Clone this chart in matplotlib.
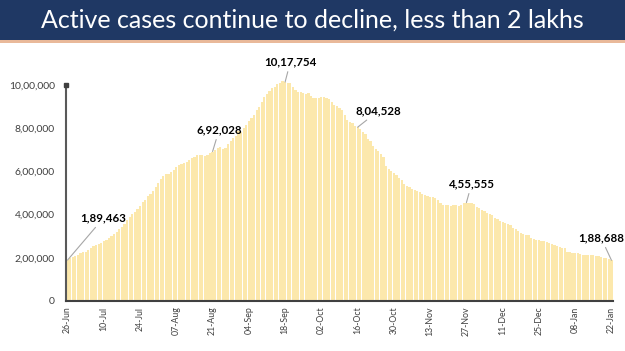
import matplotlib
matplotlib.use("Agg")
import matplotlib.pyplot as plt
from matplotlib.patches import Rectangle
from matplotlib.ticker import FuncFormatter

# daily active cases, 26-Jun-2020 .. 22-Jan-2021
active_cases = [
    189463, 197387, 203051, 210120, 215125,                       # 26-30 Jun
    220114, 226947, 227439, 235433, 244814, 253287, 259557, 264944,
    269789, 276882, 283407, 292258, 301609, 311565, 319840, 331146,
    342473, 358692, 373379, 390459, 402529, 411133, 426167, 440135,
    456071, 467882, 485114, 496988, 509447, 528242, 545318,       # Jul
    565103, 579357, 586244, 586298, 595501, 607384, 619088, 628747,
    634945, 639929, 643948, 653622, 661595, 668220, 676900, 677444,
    676514, 673166, 676900, 686395, 692028, 697330, 707668, 710771,
    704348, 707267, 725991, 742023, 752424, 765302, 785996,       # Aug
    781975, 801282, 815538, 831124, 846395, 862320, 883697, 897394,
    919018, 943480, 958316, 973175, 986598, 990061, 1003299, 1009976,
    1017754, 1013964, 1010824, 1009000, 990061, 975861, 968377, 966382,
    960969, 956402, 962640, 947576, 940441, 940705,               # Sep
    940441, 942217, 944996, 937625, 934427, 919023, 907883, 902425,
    893592, 883185, 861853, 838729, 826876, 826000, 812390, 804528,
    795087, 783311, 772055, 748538, 740090, 715812, 703687, 695509,
    680680, 668154, 625857, 610803, 603687, 594386, 582649,       # Oct
    570458, 561908, 541405, 533787, 527962, 516632, 512665, 509673,
    505265, 494657, 489294, 484547, 480719, 479216, 478124, 465478,
    453401, 444746, 443794, 443303, 440962, 443486, 443794, 438667,
    444746, 452344, 455555, 454940, 453956, 446952,               # Nov
    435603, 428644, 422943, 416082, 409689, 403248, 396729, 383866,
    378909, 372293, 363749, 359819, 356546, 352586, 339820, 332002,
    322366, 313831, 308751, 305344, 303639, 292518, 289240, 283849,
    281919, 278690, 277301, 275000, 268581, 262272, 257656,       # Dec
    254254, 250183, 247220, 243953, 228083, 227546, 224190, 222526,
    220676, 216558, 214000, 214507, 214507, 213027, 211033, 208826,
    208012, 203000, 200528, 197201, 192308, 188688,               # Jan
]

tick_labels = ["26-Jun", "10-Jul", "24-Jul", "07-Aug", "21-Aug", "04-Sep",
               "18-Sep", "02-Oct", "16-Oct", "30-Oct", "13-Nov", "27-Nov",
               "11-Dec", "25-Dec", "08-Jan", "22-Jan"]

# (day index, label, text x in days, text y)
callouts = [
    (0, "1,89,463", 5.0, 384000),
    (56, "6,92,028", 58.5, 792000),
    (84, "10,17,754", 86.0, 1106000),
    (112, "8,04,528", 120.0, 880000),
    (154, "4,55,555", 156.0, 542000),
    (210, "1,88,688", 206.0, 292000),
]

font = "Lato"


def indian_format(v, pos=None):
    v = int(round(v))
    if v == 0:
        return "0"
    s = str(v)
    last3, rest = s[-3:], s[:-3]
    groups = []
    while len(rest) > 2:
        groups.insert(0, rest[-2:])
        rest = rest[:-2]
    if rest:
        groups.insert(0, rest)
    return ",".join(groups + [last3])


fig = plt.figure(figsize=(6.25, 3.51), dpi=100)
fig.patch.set_facecolor("white")

# title banner
fig.patches.append(Rectangle((0, 1 - 40 / 351), 1, 40 / 351, transform=fig.transFigure,
                             facecolor="#1F3864", edgecolor="none", zorder=0))
fig.patches.append(Rectangle((0, 1 - 43 / 351), 1, 3 / 351, transform=fig.transFigure,
                             facecolor="#E9B99A", edgecolor="none", zorder=0))
fig.text(0.5, 1 - 20 / 351, "Active cases continue to decline, less than 2 lakhs",
         color="white", fontsize=18, family=font, ha="center", va="center")

ax = fig.add_axes([66 / 625, 50 / 351, 547 / 625, 237.6 / 351])
x = list(range(len(active_cases)))
ax.bar(x, active_cases, width=0.85, color="#FCE8AC", edgecolor="none", zorder=2)

ax.set_xlim(-0.6, 210.6)
ax.set_ylim(0, 1100000)
ax.set_yticks([0, 200000, 400000, 600000, 800000, 1000000])
ax.yaxis.set_major_formatter(FuncFormatter(indian_format))
ax.set_xticks(list(range(0, len(active_cases), 14)))
ax.set_xticklabels(tick_labels, rotation=90)

for side in ["top", "right"]:
    ax.spines[side].set_visible(False)
ax.spines["left"].set_bounds(0, 1000000)
ax.spines["left"].set_color("#595959")
ax.spines["left"].set_linewidth(1.5)
ax.spines["bottom"].set_color("#404040")
ax.spines["bottom"].set_linewidth(1.5)
ax.plot([-0.6], [1000000], marker="s", markersize=2.5, color="#404040",
        clip_on=False, zorder=5)

ax.tick_params(axis="y", length=0, pad=8, labelsize=7.5, labelcolor="#404040")
ax.tick_params(axis="x", length=0, pad=4, labelsize=6.3, labelcolor="#404040")
for lbl in ax.get_xticklabels() + ax.get_yticklabels():
    lbl.set_family(font)

for idx, text, tx, ty in callouts:
    ax.annotate(text, xy=(idx, active_cases[idx]), xytext=(tx, ty),
                textcoords="data", ha="left" if idx == 0 else "center",
                va="center", fontsize=8.3, fontweight="bold", family=font,
                color="black", annotation_clip=False,
                arrowprops=dict(arrowstyle="-", color="#A6A6A6", lw=0.8,
                                shrinkA=1, shrinkB=0))

fig.savefig("out.png", dpi=100)
